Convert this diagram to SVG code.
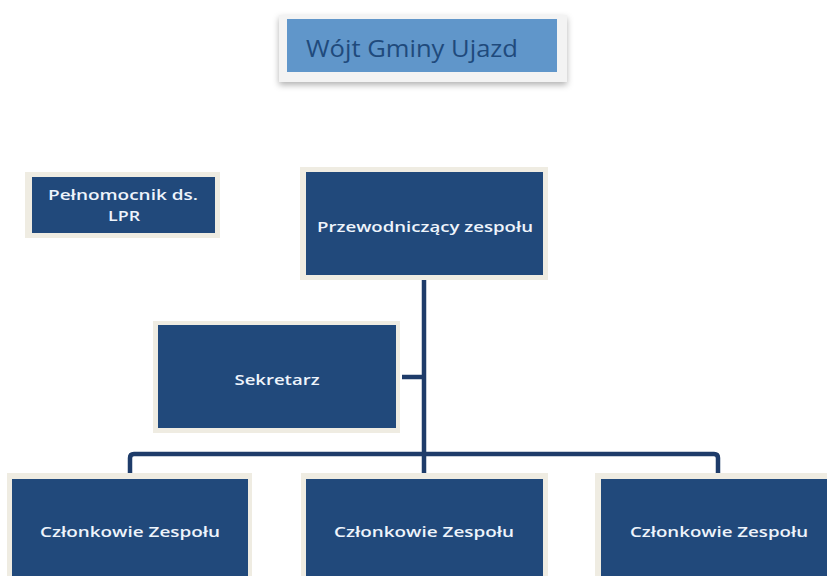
<svg xmlns="http://www.w3.org/2000/svg" width="827" height="576" viewBox="0 0 827 576">
<style>
.frame{fill:#efece2}
.box{fill:#21497b}
.lbl{font-family:"Open Sans","Liberation Sans",sans-serif;font-size:14px;fill:#eef4fb;text-anchor:middle;font-weight:600}
.conn{fill:none;stroke:#1e3c6a;stroke-width:4.5}
.title{font-family:"Open Sans","Liberation Sans",sans-serif;font-size:23px;fill:#1f4a7c}
</style>
<defs>
<filter id="sh" x="-10%" y="-20%" width="120%" height="160%">
<feDropShadow dx="0" dy="3" stdDeviation="3" flood-color="#000" flood-opacity="0.3"/>
</filter>
</defs>
<rect width="827" height="576" fill="#ffffff"/>
<g id="connectors">
<path class="conn" d="M424 280 V474"/>
<path class="conn" d="M402 377 H424"/>
<path class="conn" d="M130 474 V458 Q130 454 134 454 H714 Q718 454 718 458 V474"/>
</g>
<g id="wojt">
<rect x="279" y="15" width="288" height="67" fill="#f3f3f3" filter="url(#sh)"/>
<rect x="287" y="19" width="270" height="53" fill="#6096ca"/>
<text class="title" x="306" y="57" textLength="212" lengthAdjust="spacingAndGlyphs">Wójt Gminy Ujazd</text>
</g>
<g id="pelnomocnik">
<rect class="frame" x="25" y="172" width="195" height="66"/>
<rect class="box" x="32" y="177" width="183" height="56"/>
<text class="lbl" x="123" y="200" textLength="150" lengthAdjust="spacingAndGlyphs">Pełnomocnik ds.</text>
<text class="lbl" x="124" y="221" textLength="32" lengthAdjust="spacingAndGlyphs">LPR</text>
</g>
<g id="przewodniczacy">
<rect class="frame" x="300" y="167" width="248" height="113"/>
<rect class="box" x="306" y="172" width="237" height="103"/>
<text class="lbl" x="425" y="232" textLength="216" lengthAdjust="spacingAndGlyphs">Przewodniczący zespołu</text>
</g>
<g id="sekretarz">
<rect class="frame" x="153" y="321" width="247" height="112"/>
<rect class="box" x="158" y="325" width="238" height="103"/>
<text class="lbl" x="277" y="385" textLength="85" lengthAdjust="spacingAndGlyphs">Sekretarz</text>
</g>
<g id="czlonkowie1">
<rect class="frame" x="7" y="473" width="245" height="110"/>
<rect class="box" x="12" y="479" width="236" height="110"/>
<text class="lbl" x="130" y="537" textLength="180" lengthAdjust="spacingAndGlyphs">Członkowie Zespołu</text>
</g>
<g id="czlonkowie2">
<rect class="frame" x="301" y="473" width="247" height="110"/>
<rect class="box" x="306" y="479" width="237" height="110"/>
<text class="lbl" x="424" y="537" textLength="180" lengthAdjust="spacingAndGlyphs">Członkowie Zespołu</text>
</g>
<g id="czlonkowie3">
<rect class="frame" x="595" y="473" width="232" height="110"/>
<rect class="box" x="601" y="479" width="226" height="110"/>
<text class="lbl" x="719" y="537" textLength="178" lengthAdjust="spacingAndGlyphs">Członkowie Zespołu</text>
</g>
</svg>
